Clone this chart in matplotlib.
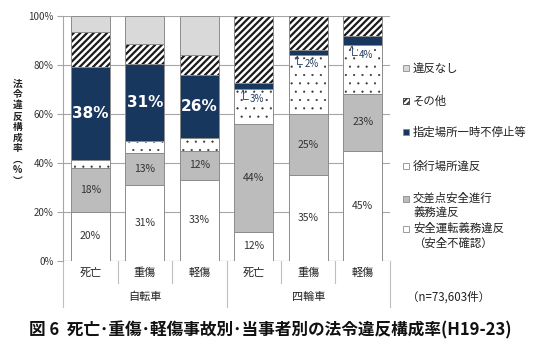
import matplotlib.pyplot as plt
from matplotlib.patches import Rectangle

plt.rcParams['font.family'] = ['Noto Sans CJK JP', 'DejaVu Sans']

# categories (bottom of stack first)
bars = ['死亡', '重傷', '軽傷', '死亡', '重傷', '軽傷']
groups = ['自転車', '四輪車']
series = ['安全運転義務違反\n（安全不確認）', '交差点安全進行\n義務違反', '徐行場所違反',
          '指定場所一時不停止等', 'その他', '違反なし']

anzen = [20, 31, 33, 12, 35, 45]
kousaten = [18, 13, 12, 44, 25, 23]
jokou = [3, 5, 5, 14, 24, 20]
shitei = [38, 31.5, 26, 2.5, 2, 4]
sonota = [14.5, 8, 8, 27.5, 14, 8]
nashi = [6.5, 11.5, 16, 0, 0, 0]

shitei_lbl = ['38%', '31%', '26%', '3%', '2%', '4%']
anzen_lbl = ['20%', '31%', '33%', '12%', '35%', '45%']
kousaten_lbl = ['18%', '13%', '12%', '44%', '25%', '23%']

values = [anzen, kousaten, jokou, shitei, sonota, nashi]
colors = ['white', '#bcbcbc', 'white', '#17375e', 'white', '#d9d9d9']
hatches = [None, None, '..', None, '/////', None]
hatch_cols = ['none', 'none', '#333333', 'none', '#1a1a1a', 'none']
hatch_lw = [1, 1, 0.3, 1, 1.6, 1]

fig = plt.figure(figsize=(5.4, 3.54), dpi=100)
ax = fig.add_axes([0.117, 0.263, 0.605, 0.692])

x = list(range(len(bars)))
w = 0.72
bottom = [0] * len(bars)
for vals, c, h, hc, hl in zip(values, colors, hatches, hatch_cols, hatch_lw):
    plt.rcParams['hatch.linewidth'] = hl
    ax.bar(x, vals, w, bottom=bottom, color=c, hatch=h, edgecolor=hc, linewidth=0, zorder=2)
    ax.bar(x, vals, w, bottom=bottom, fill=False, edgecolor='#8c8c8c', linewidth=0.7, zorder=3)
    bottom = [b + v for b, v in zip(bottom, vals)]

# data labels
for i in range(len(bars)):
    ax.text(i, anzen[i] / 2, anzen_lbl[i], ha='center', va='center', fontsize=7.5, color='#333333', zorder=4)
    ax.text(i, anzen[i] + kousaten[i] / 2, kousaten_lbl[i], ha='center', va='center',
            fontsize=7.5, color='#333333', zorder=4)
    base = anzen[i] + kousaten[i] + jokou[i]
    if shitei[i] > 10:
        ax.text(i, base + shitei[i] / 2, shitei_lbl[i], ha='center', va='center', fontsize=11,
                fontweight='bold', color='white', family='DejaVu Sans', zorder=4)
    else:
        ax.annotate(shitei_lbl[i], xy=(i - 0.2, base), xytext=(i + 0.06, base - 3.8),
                    ha='center', va='center', fontsize=7, color='#1f3a5f', zorder=5,
                    bbox=dict(boxstyle='square,pad=0.05', fc='white', ec='none'),
                    arrowprops=dict(arrowstyle='->', color='#1f3a5f', lw=0.6, shrinkA=1, shrinkB=0,
                                    mutation_scale=5,
                                    connectionstyle='angle,angleA=0,angleB=90,rad=0'))

ax.set_xlim(-0.5, 5.5)
ax.set_ylim(0, 100)
ax.set_yticks([0, 20, 40, 60, 80, 100])
ax.set_yticklabels(['0%', '20%', '40%', '60%', '80%', '100%'], fontsize=7, color='#333333')
ax.yaxis.grid(True, color='#a6a6a6', linewidth=0.8, zorder=0)
ax.set_axisbelow(True)
ax.tick_params(axis='y', length=4, color='#a6a6a6', pad=3)
ax.set_xticks([])
for s in ['top', 'right', 'bottom']:
    ax.spines[s].set_visible(False)
ax.spines['left'].set_color('#a6a6a6')
ax.axhline(0, color='#a6a6a6', linewidth=0.8, zorder=1)

# category axis below
tr = ax.get_xaxis_transform()
for i, name in enumerate(bars):
    ax.text(i, -0.05, name, transform=tr, ha='center', va='center', fontsize=8, color='#222222')
for sx in [0.5, 1.5, 3.5, 4.5]:
    ax.plot([sx, sx], [0, -0.09], transform=tr, color='#bfbfbf', linewidth=0.8, clip_on=False)
for sx in [-0.5, 2.5, 5.5]:
    ax.plot([sx, sx], [0, -0.19], transform=tr, color='#bfbfbf', linewidth=0.8, clip_on=False)
ax.text(1, -0.147, groups[0], transform=tr, ha='center', va='center', fontsize=8, color='#222222')
ax.text(4, -0.147, groups[1], transform=tr, ha='center', va='center', fontsize=8, color='#222222')
ax.text(5.81, -0.147, '（n=73,603件）', transform=tr, ha='left', va='center', fontsize=8.3, color='#222222')

# y label, stacked vertically
fig.text(0.033, 0.627, '\n'.join('法令違反構成率︵%︶'), ha='center', va='center',
         fontsize=7, color='#222222', linespacing=1.1, fontweight='bold')

# legend (top to bottom)
leg_y = [68, 101, 132, 166, 206, 236]
for k, yy in zip(range(5, -1, -1), leg_y):
    lines = series[k].count('\n')
    ty = yy - 7.5 * lines
    plt.rcParams['hatch.linewidth'] = 1.2
    fig.patches.append(Rectangle((403 / 540, 1 - (ty + 3) / 354), 6 / 540, 6 / 354,
                                 transform=fig.transFigure, facecolor=colors[k],
                                 hatch=('//////' if k == 4 else None),
                                 edgecolor=('#333333' if k == 4 else '#8c8c8c'), linewidth=0.6))
    fig.text(413 / 540, 1 - ty / 354, series[k].split('\n')[0], ha='left', va='center',
             fontsize=8.2, color='#222222')
    if lines:
        fig.text(413 / 540, 1 - (ty + 15) / 354, series[k].split('\n')[1], ha='left', va='center',
                 fontsize=8.2, color='#222222')

fig.text(0.5, 0.068, '図 6  死亡･重傷･軽傷事故別･当事者別の法令違反構成率(H19-23)',
         ha='center', va='center', fontsize=12, fontweight='bold', color='#111111')

fig.savefig('out.png', dpi=100)
